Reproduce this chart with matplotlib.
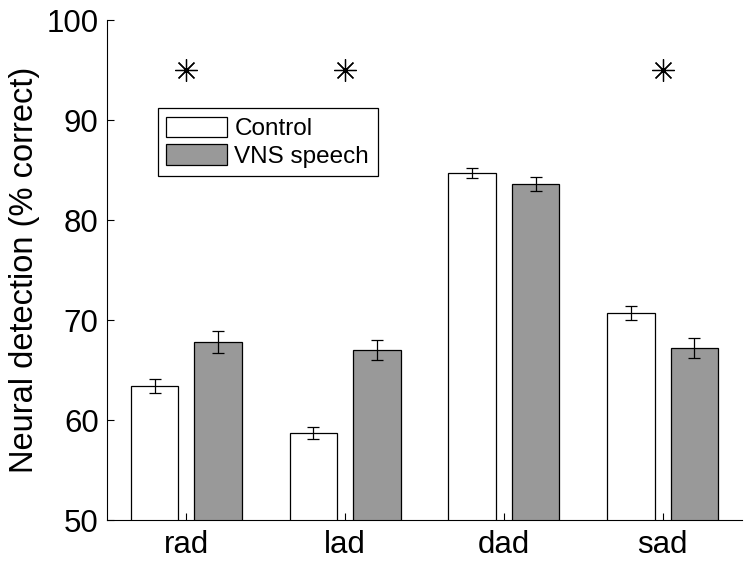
import matplotlib
matplotlib.use("Agg")
import matplotlib.pyplot as plt
import numpy as np

# data
categories = ["rad", "lad", "dad", "sad"]
control = [63.4, 58.7, 84.7, 70.7]
control_err = [0.7, 0.6, 0.5, 0.7]
vns = [67.8, 67.0, 83.6, 67.2]
vns_err = [1.1, 1.0, 0.7, 1.0]
sig_groups = [0, 1, 3]   # groups marked with an asterisk
sig_level = 95

plt.rcParams['font.family'] = ['Liberation Sans', 'DejaVu Sans']

fig = plt.figure(figsize=(7.51, 5.64), dpi=100)
ax = fig.add_axes([0.1425, 0.078, 0.8455, 0.8865])

x = np.arange(1, len(categories) + 1)
w = 0.3
ax.bar(x - 0.2, control, w, color='white', edgecolor='black', linewidth=0.9,
       yerr=control_err, error_kw=dict(ecolor='black', elinewidth=0.9, capsize=4, capthick=0.9),
       label='Control', zorder=2)
ax.bar(x + 0.2, vns, w, color='#999999', edgecolor='black', linewidth=0.9,
       yerr=vns_err, error_kw=dict(ecolor='black', elinewidth=0.9, capsize=4, capthick=0.9),
       label='VNS speech', zorder=2)

ax.plot(x[sig_groups], [sig_level] * len(sig_groups), linestyle='none',
        marker=(8, 2, 0), markersize=16, markeredgewidth=0.9, color='black')

ax.set_xlim(0.5, 4.5)
ax.set_ylim(50, 100)
ax.set_xticks(x)
ax.set_xticklabels(categories)
ax.set_yticks(np.arange(50, 101, 10))
ax.tick_params(direction='in', length=5, width=0.8, labelsize=22.5, pad=6)
ax.tick_params(axis='x', pad=7)
ax.set_ylabel("Neural detection (% correct)", fontsize=23.5, labelpad=5)

for s in ['top', 'right']:
    ax.spines[s].set_visible(False)
for s in ['left', 'bottom']:
    ax.spines[s].set_linewidth(0.8)

leg = ax.legend(loc='upper left', bbox_to_anchor=(0.08, 0.824), borderaxespad=0,
                fontsize=17.5, fancybox=False, framealpha=1, edgecolor='black',
                handlelength=2.5, handleheight=0.95, handletextpad=0.3,
                labelspacing=0.15, borderpad=0.35)
leg.get_frame().set_linewidth(0.9)

fig.savefig("out.png", dpi=100)
